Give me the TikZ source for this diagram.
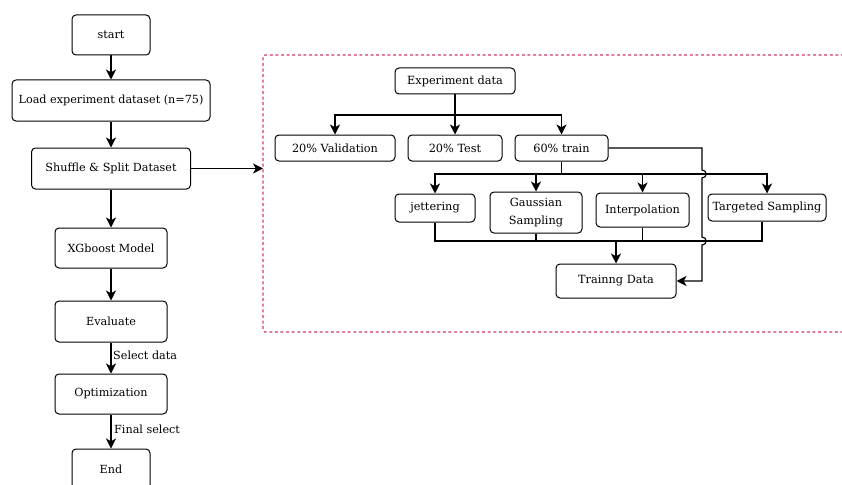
\documentclass[tikz,border=0pt]{standalone}
\usepackage{fontspec}
\setmainfont{DejaVu Serif}
\usetikzlibrary{arrows.meta}
\definecolor{frame}{RGB}{206,60,110}
\begin{document}
\begin{tikzpicture}[x=1pt,y=-1pt,
  box/.style={draw, line width=1pt, rounded corners=4pt, align=center, inner sep=0pt, font=\fontsize{11.2}{13}\selectfont},
  rbox/.style={box, font=\fontsize{11.3}{13}\selectfont},
  conn/.style={line width=1.2pt},
  arr/.style={conn, -{Stealth[length=10pt,width=10pt,inset=2.8pt]}},
  lbl/.style={anchor=west, inner sep=0pt, font=\fontsize{11.2}{13}\selectfont}]
\useasboundingbox (0,0) rectangle (842,484);
\clip (0,0) rectangle (842,484);
% left column
\node[box, minimum width=78pt, minimum height=40pt] (start) at (111,35) {start};
\node[box, minimum width=198pt, minimum height=41pt] (load) at (111,100.5) {Load experiment dataset (n=75)};
\node[box, minimum width=159pt, minimum height=41pt] (shuf) at (111,168.5) {Shuffle \& Split Dataset};
\node[box, minimum width=112pt, minimum height=40pt] (xgb) at (111,248) {XGboost Model};
\node[box, minimum width=112pt, minimum height=41pt] (eval) at (111,321.5) {Evaluate};
\node[box, minimum width=112pt, minimum height=40pt] (opt) at (111,394) {Optimization};
\node[box, minimum width=78pt, minimum height=40pt] (end) at (111,469) {End};
\draw[arr] (start) -- (load);
\draw[arr] (load) -- (shuf);
\draw[arr] (shuf) -- (xgb);
\draw[arr] (xgb) -- (eval);
\draw[arr] (eval) -- (opt);
\draw[arr] (opt) -- (end);
\node[lbl] (sel) at (113,355) {Select data};
\node[lbl] (fin) at (114,429) {Final select};
% frame
\draw[frame, line width=1.2pt, dash pattern=on 3pt off 2.6pt, rounded corners=2pt] (900,55) -- (263,55) -- (263,332) -- (900,332);
\coordinate (fr) at (263,168.5);
\draw[arr] (shuf.east) -- (fr);
% right part
\node[rbox, minimum width=120pt, minimum height=26pt] (exp) at (455,81) {Experiment data};
\node[rbox, minimum width=120pt, minimum height=26pt] (val) at (335,148) {20\% Validation};
\node[rbox, minimum width=94pt, minimum height=26pt] (test) at (455,148) {20\% Test};
\node[rbox, minimum width=93pt, minimum height=26pt] (train) at (561.5,148) {60\% train};
\node[rbox, minimum width=80pt, minimum height=28pt] (jit) at (435,208) {jettering};
\node[rbox, minimum width=92pt, minimum height=41pt, font=\fontsize{11.3}{18}\selectfont] (gauss) at (536,212.5) {Gaussian\\Sampling};
\node[rbox, minimum width=93pt, minimum height=34pt] (interp) at (642.5,210) {Interpolation};
\node[rbox, minimum width=118pt, minimum height=27pt] (targ) at (767,207.5) {Targeted Sampling};
\node[rbox, minimum width=120pt, minimum height=34pt] (trd) at (616,281) {Trainng Data};
\coordinate (b1) at (455,115);
\draw[conn] (exp.south) -- (b1);
\draw[arr] (b1) -| (val.north);
\draw[arr] (b1) -- (test.north);
\draw[arr] (b1) -| (train.north);
\coordinate (b2) at (561.5,174);
\draw[conn] (train.south) -- (b2);
\draw[arr] (b2) -| (jit.north);
\draw[arr] (b2) -| (gauss.north);
\draw[arr] (b2) -| (interp.north);
\draw[arr] (b2) -| (targ.north);
\coordinate (b3) at (616,241);
\draw[conn] (jit.south) |- (b3);
\draw[conn] (gauss.south) |- (b3);
\draw[conn] (interp.south) |- (b3);
\draw[conn] ([xshift=-5pt]targ.south) |- (b3);
\draw[arr] (b3) -- (trd.north);
\coordinate (r1) at (702,148);
\coordinate (r2) at (702,281);
\draw[arr] (train.east) -- (r1) -- (702,170) .. controls (707.5,170) and (707.5,178) .. (702,178) -- (702,237) .. controls (707.5,237) and (707.5,245) .. (702,245) -- (r2) -- (trd.east);
\end{tikzpicture}
\end{document}
